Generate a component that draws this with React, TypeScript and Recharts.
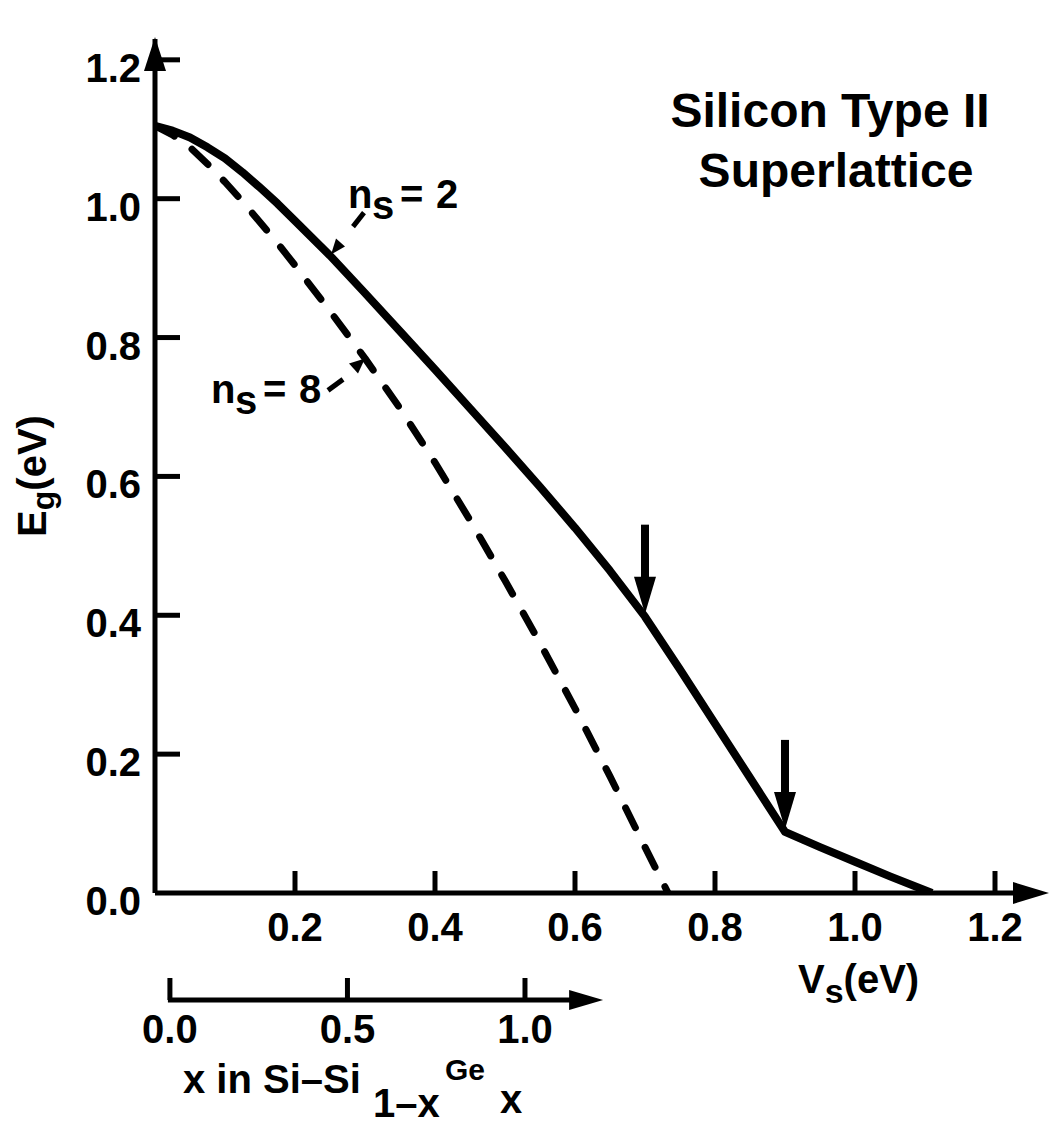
import React from 'react'
import { LineChart, Line, XAxis, YAxis, ReferenceDot } from 'recharts'

// band gap vs. strain potential
const vsNs2 = [0, 0.025, 0.05, 0.075, 0.1, 0.125, 0.15, 0.175, 0.2, 0.25, 0.3, 0.35, 0.4, 0.45, 0.5, 0.55, 0.6, 0.65, 0.7, 0.75, 0.8, 0.85, 0.9, 0.95, 1.0, 1.05, 1.11]
const egNs2 = [1.105, 1.098, 1.088, 1.074, 1.058, 1.038, 1.016, 0.993, 0.968, 0.918, 0.864, 0.809, 0.754, 0.698, 0.642, 0.585, 0.526, 0.464, 0.398, 0.322, 0.244, 0.166, 0.088, 0.066, 0.045, 0.024, 0]
const vsNs8 = [0, 0.025, 0.05, 0.075, 0.1, 0.125, 0.15, 0.175, 0.2, 0.25, 0.3, 0.35, 0.4, 0.45, 0.5, 0.55, 0.6, 0.65, 0.7, 0.733]
const egNs8 = [1.105, 1.092, 1.074, 1.05, 1.024, 0.996, 0.966, 0.936, 0.904, 0.838, 0.77, 0.698, 0.62, 0.537, 0.45, 0.36, 0.266, 0.168, 0.066, 0]

const vsTicks = [0.2, 0.4, 0.6, 0.8, 1.0, 1.2]
const egTicks = [0, 0.2, 0.4, 0.6, 0.8, 1.0, 1.2]
const geTicks = [0, 0.5, 1.0]
const geDomain = [-0.042, 2.442]
const geArrowEnd = 1.22

// the two arrows on the n_s = 2 curve
const markVs = [0.7, 0.9]

const ns2Data = vsNs2.map((v, i) => ({ vs: v, eg: egNs2[i] }))
const ns8Data = vsNs8.map((v, i) => ({ vs: v, eg: egNs8[i] }))

const FONT = "'Liberation Sans', Arial, Helvetica, sans-serif"
const txt = { fontFamily: FONT, fontWeight: 700, fontSize: 40, fill: '#000' } as any

const VsTick = ({ x, y, payload }: any) => (
  <g>
    <line x1={x} y1={y} x2={x} y2={y - 22} stroke="#000" strokeWidth={5} />
    <text x={x} y={y + 48} textAnchor="middle" style={txt}>{payload.value.toFixed(1)}</text>
  </g>
)

const EgTick = ({ x, y, payload }: any) => (
  <g>
    {payload.value !== 0 && <line x1={x} y1={y} x2={x + 25} y2={y} stroke="#000" strokeWidth={5} />}
    <text x={x - 14} y={y + 22} textAnchor="end" style={txt}>{payload.value.toFixed(1)}</text>
  </g>
)

const GeTick = ({ x, y, payload }: any) => (
  <g>
    <line x1={x} y1={y + 67} x2={x} y2={y + 45} stroke="#000" strokeWidth={5} />
    <text x={x} y={y + 110} textAnchor="middle" style={txt}>{payload.value.toFixed(1)}</text>
  </g>
)

const VsAxisDecor = ({ viewBox }: any) => {
  const { x, y, width } = viewBox
  const tx = x + width + 12
  return (
    <g>
      <polygon points={`${tx},${y} ${tx - 36},${y - 11} ${tx - 36},${y + 11}`} fill="#000" />
      <text x={x + 643} y={y + 100} style={txt}>
        V<tspan dy={10} fontSize={34}>s</tspan><tspan dy={-10}>(eV)</tspan>
      </text>
    </g>
  )
}

const EgAxisDecor = ({ viewBox }: any) => {
  const { x, y, width } = viewBox
  const ax = x + width
  return (
    <g>
      <polygon points={`${ax},${y - 2} ${ax - 11},${y + 32} ${ax + 11},${y + 32}`} fill="#000" />
      <text x={46} y={476} textAnchor="middle" transform="rotate(-90 46 476)" style={txt}>
        E<tspan dy={8} fontSize={32}>g</tspan><tspan dy={-8}>(eV)</tspan>
      </text>
    </g>
  )
}

const GeAxisDecor = ({ viewBox }: any) => {
  const { x, y, width } = viewBox
  const at = (v: number) => x + ((v - geDomain[0]) / (geDomain[1] - geDomain[0])) * width
  const ly = y + 67
  const tip = at(geArrowEnd)
  return (
    <g>
      <line x1={at(0) - 2} y1={ly} x2={tip - 30} y2={ly} stroke="#000" strokeWidth={5} />
      <polygon points={`${tip},${ly} ${tip - 34},${ly - 10} ${tip - 34},${ly + 10}`} fill="#000" />
      <text y={y + 160} style={txt}>
        <tspan x={x + 28}>x in Si–Si</tspan>
        <tspan x={x + 218} y={y + 184}>1–x</tspan>
        <tspan x={x + 290} y={y + 147} fontSize={30}>Ge</tspan>
        <tspan x={x + 345} y={y + 180}>x</tspan>
      </text>
    </g>
  )
}

const DownArrow = ({ cx, cy }: any) => (
  <g>
    <rect x={cx - 4} y={cy - 92} width={8} height={56} fill="#000" />
    <polygon points={`${cx - 11},${cy - 40} ${cx + 11},${cy - 40} ${cx},${cy - 3}`} fill="#000" />
  </g>
)

const Ns2Label = ({ cx, cy }: any) => (
  <g>
    <line x1={cx + 34} y1={cy - 43} x2={cx + 23} y2={cy - 29} stroke="#000" strokeWidth={5} />
    <polygon points={`${cx + 1},${cy - 1} ${cx + 15},${cy - 9} ${cx + 6},${cy - 17}`} fill="#000" />
    <text y={cy - 48} style={txt}>
      <tspan x={cx + 18}>n</tspan>
      <tspan x={cx + 42} dy={11}>s</tspan>
      <tspan x={cx + 70} dy={-11}>=</tspan>
      <tspan x={cx + 106}>2</tspan>
    </text>
  </g>
)

const Ns8Label = ({ cx, cy }: any) => (
  <g>
    <line x1={cx - 37} y1={cy + 32} x2={cx - 22} y2={cy + 21} stroke="#000" strokeWidth={5} />
    <polygon points={`${cx},${cy} ${cx - 7},${cy + 15} ${cx - 16},${cy + 5}`} fill="#000" />
    <text y={cy + 45} style={txt}>
      <tspan x={cx - 154}>n</tspan>
      <tspan x={cx - 130} dy={11}>s</tspan>
      <tspan x={cx - 102} dy={-11}>=</tspan>
      <tspan x={cx - 66}>8</tspan>
    </text>
  </g>
)

export default function App() {
  return (
    <div style={{ position: 'absolute', left: 0, top: 0, width: 1055, height: 1130, background: '#fff' }}>
      <LineChart width={1055} height={1130} data={ns2Data} margin={{ top: 39, right: 18, bottom: 97, left: 95 }}>
        <XAxis
          xAxisId={0}
          type="number"
          dataKey="vs"
          domain={[0, 1.26]}
          allowDataOverflow
          ticks={vsTicks}
          interval={0}
          height={40}
          tickSize={0}
          tickMargin={0}
          tickLine={false}
          axisLine={{ stroke: '#000', strokeWidth: 5 }}
          tick={(p: any) => <VsTick {...p} />}
          label={(p: any) => <VsAxisDecor {...p} />}
        />
        <XAxis
          xAxisId="ge"
          type="number"
          dataKey="vs"
          domain={geDomain}
          allowDataOverflow
          ticks={geTicks}
          interval={0}
          height={100}
          tickSize={0}
          tickMargin={0}
          tickLine={false}
          axisLine={false}
          tick={(p: any) => <GeTick {...p} />}
          label={(p: any) => <GeAxisDecor {...p} />}
        />
        <YAxis
          type="number"
          domain={[0, 1.23]}
          allowDataOverflow
          ticks={egTicks}
          interval={0}
          width={60}
          tickSize={0}
          tickMargin={0}
          tickLine={false}
          axisLine={{ stroke: '#000', strokeWidth: 5 }}
          tick={(p: any) => <EgTick {...p} />}
          label={(p: any) => <EgAxisDecor {...p} />}
        />
        <Line
          data={ns8Data}
          dataKey="eg"
          type="linear"
          stroke="#000"
          strokeWidth={7}
          strokeDasharray="22 22"
          strokeLinecap="round"
          strokeLinejoin="round"
          dot={false}
          isAnimationActive={false}
        />
        <Line
          data={ns2Data}
          dataKey="eg"
          type="linear"
          stroke="#000"
          strokeWidth={8}
          strokeLinejoin="round"
          dot={false}
          isAnimationActive={false}
        />
        {markVs.map((v) => (
          <ReferenceDot key={v} x={v} y={egNs2[vsNs2.indexOf(v)]} r={0} ifOverflow="visible" shape={(p: any) => <DownArrow {...p} />} />
        ))}
        <ReferenceDot x={vsNs2[9]} y={egNs2[9]} r={0} ifOverflow="visible" shape={(p: any) => <Ns2Label {...p} />} />
        <ReferenceDot x={vsNs8[10]} y={egNs8[10]} r={0} ifOverflow="visible" shape={(p: any) => <Ns8Label {...p} />} />
      </LineChart>
      <svg width={1055} height={1130} style={{ position: 'absolute', left: 0, top: 0, pointerEvents: 'none' }}>
        <text x={830} y={127} textAnchor="middle" style={{ ...txt, fontSize: 48 }}>Silicon Type II</text>
        <text x={836} y={187} textAnchor="middle" style={{ ...txt, fontSize: 48 }}>Superlattice</text>
      </svg>
    </div>
  )
}
